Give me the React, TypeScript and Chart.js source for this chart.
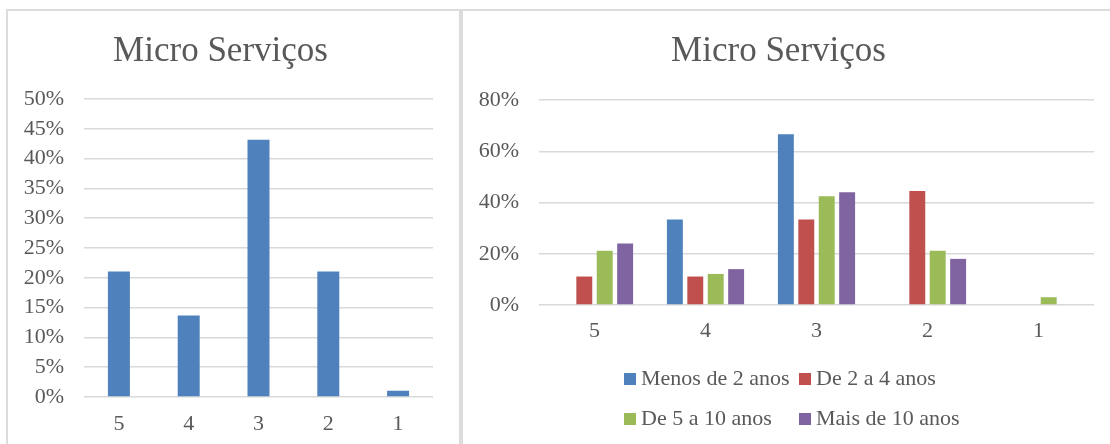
import { useEffect, useRef } from 'react';
import { Chart, registerables } from 'chart.js';

Chart.register(...registerables);

const FONT = '"Liberation Serif", "Times New Roman", serif';
const TEXT_COLOR = '#595959';
const GRID_COLOR = '#d9d9d9';

// Likert scale answers, from 5 down to 1
const categories = ['5', '4', '3', '2', '1'];

// Share of all answers per score (%)
const overallShare = [21.05, 13.68, 43.16, 21.05, 1.05];

// Share per experience group (%)
const menosDe2Anos = [0, 33.33, 66.67, 0, 0];
const de2a4Anos = [11.11, 11.11, 33.33, 44.44, 0];
const de5a10Anos = [21.21, 12.12, 42.42, 21.21, 3.03];
const maisDe10Anos = [24, 14, 44, 18, 0];

const seriesNames = ['Menos de 2 anos', 'De 2 a 4 anos', 'De 5 a 10 anos', 'Mais de 10 anos'];
const seriesColors = ['#4F81BD', '#C0504D', '#9BBB59', '#8064A2'];

const chartTitle = 'Micro Serviços';

// Legend laid out as a two-column grid under the x axis
const gridLegend = {
  id: 'gridLegend',
  afterDraw(chart: any, _args: any, opts: any) {
    if (!opts || !opts.columns) return;
    const { ctx } = chart;
    ctx.save();
    ctx.font = `22px ${FONT}`;
    ctx.textBaseline = 'middle';
    ctx.textAlign = 'left';
    chart.data.datasets.forEach((ds: any, i: number) => {
      const x = opts.columns[i % 2];
      const y = opts.rows[Math.floor(i / 2)];
      ctx.fillStyle = ds.backgroundColor;
      ctx.fillRect(x, y - 6, 12, 12);
      ctx.fillStyle = TEXT_COLOR;
      ctx.fillText(ds.label, x + 17, y);
    });
    ctx.restore();
  },
};

function baseOptions(max: number, step: number, xPad: number, xHeight: number, titleBottom: number) {
  return {
    responsive: true,
    maintainAspectRatio: false,
    animation: false as const,
    layout: { padding: { left: 0, right: 0, top: 0, bottom: 0 } },
    plugins: {
      legend: { display: false },
      tooltip: { enabled: false },
      title: {
        display: true,
        text: chartTitle,
        color: TEXT_COLOR,
        font: { family: FONT, size: 35, weight: 'normal' as const },
        padding: { top: 20, bottom: titleBottom },
      },
    },
    scales: {
      x: {
        grid: { display: false },
        border: { display: false },
        ticks: {
          color: TEXT_COLOR,
          font: { family: FONT, size: 22 },
          padding: xPad,
          maxRotation: 0,
        },
        afterFit: (scale: any) => {
          scale.height = xHeight;
        },
      },
      y: {
        min: 0,
        max,
        border: { display: false },
        grid: { color: GRID_COLOR, lineWidth: 1.5, drawTicks: false },
        ticks: {
          stepSize: step,
          color: TEXT_COLOR,
          font: { family: FONT, size: 22 },
          padding: 20,
          callback: (v: any) => `${v}%`,
        },
        afterFit: (scale: any) => {
          scale.width = 76;
        },
      },
    },
  };
}

function OverallChart() {
  const ref = useRef<HTMLCanvasElement>(null);
  useEffect(() => {
    if (!ref.current) return;
    const opts: any = baseOptions(50, 5, 6, 47, 26);
    opts.layout.padding.right = 26;
    const chart = new Chart(ref.current, {
      type: 'bar',
      data: {
        labels: categories,
        datasets: [
          {
            label: 'Total',
            data: overallShare,
            backgroundColor: seriesColors[0],
            categoryPercentage: 1,
            barPercentage: 0.315,
          },
        ],
      },
      options: opts,
    });
    return () => chart.destroy();
  }, []);
  return <canvas ref={ref} />;
}

function GroupChart() {
  const ref = useRef<HTMLCanvasElement>(null);
  useEffect(() => {
    if (!ref.current) return;
    const opts: any = baseOptions(80, 20, 5, 50, 27);
    opts.layout.padding.right = 29;
    opts.layout.padding.bottom = 89;
    opts.plugins.gridLegend = { columns: [161, 336], rows: [368, 408] };
    const values = [menosDe2Anos, de2a4Anos, de5a10Anos, maisDe10Anos];
    const chart = new Chart(ref.current, {
      type: 'bar',
      data: {
        labels: categories,
        datasets: values.map((data, i) => ({
          label: seriesNames[i],
          data,
          backgroundColor: seriesColors[i],
          categoryPercentage: 0.736,
          barPercentage: 0.78,
        })),
      },
      options: opts,
      plugins: [gridLegend],
    });
    return () => chart.destroy();
  }, []);
  return <canvas ref={ref} />;
}

const line = '#dcdcdc';

export default function App() {
  return (
    <div
      style={{
        position: 'absolute',
        left: 0,
        top: 0,
        width: 1110,
        height: 444,
        overflow: 'hidden',
        background: '#ffffff',
      }}
    >
      <div style={{ position: 'absolute', left: 6, top: 9, width: 1110, height: 2, background: line }} />
      <div style={{ position: 'absolute', left: 6, top: 9, width: 2, height: 440, background: line }} />
      <div style={{ position: 'absolute', left: 459, top: 9, width: 4, height: 440, background: line }} />
      <div style={{ position: 'absolute', left: 8, top: 11, width: 451, height: 433 }}>
        <OverallChart />
      </div>
      <div style={{ position: 'absolute', left: 463, top: 11, width: 660, height: 433 }}>
        <GroupChart />
      </div>
    </div>
  );
}
